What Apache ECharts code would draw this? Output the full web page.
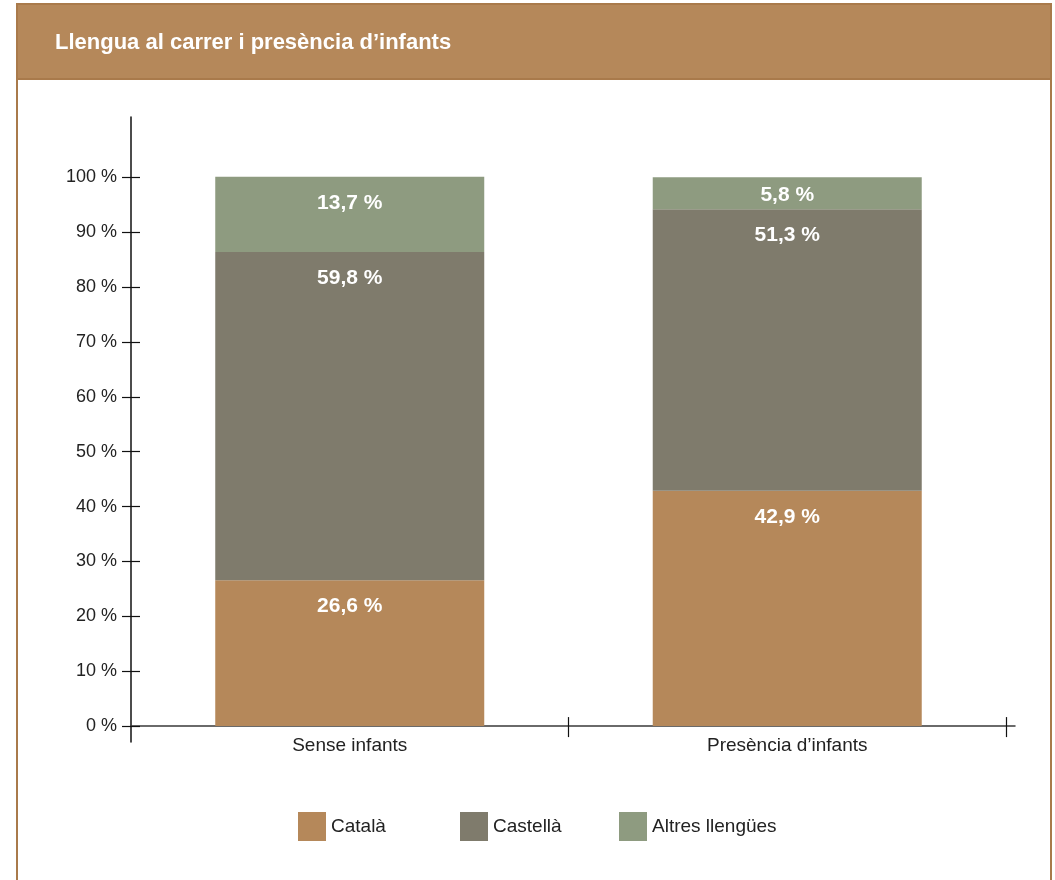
<!DOCTYPE html>
<html>
<head>
<meta charset="utf-8">
<script src="https://cdn.jsdelivr.net/npm/echarts@6/dist/echarts.min.js"></script>
<style>
  html, body { margin: 0; padding: 0; background: #ffffff; }
  #chart { width: 1055px; height: 880px; }
</style>
</head>
<body>
<div id="chart"></div>
<script>
// ---- data ----
const chartTitle = 'Llengua al carrer i presència d’infants';
const categories = ['Sense infants', 'Presència d’infants'];
const seriesNames = ['Català', 'Castellà', 'Altres llengües'];
const catala = [26.6, 42.9];
const castella = [59.8, 51.3];
const altres = [13.7, 5.8];
const yTickValues = [0, 10, 20, 30, 40, 50, 60, 70, 80, 90, 100];
const xBoundaryTicks = [1, 2];

// ---- styling ----
const FONT = '"Liberation Sans", Arial, Helvetica, sans-serif';
const COLORS = ['#B5885A', '#7F7B6C', '#8E9B80'];
const BRAND = '#B5885A';
const FRAME = '#A97A4B';
const LEGEND_LEFT = [298, 460, 619];

const fmtPct = v => v.toFixed(1).replace('.', ',') + ' %';

// Bars sit at the middle of each unit slot on the horizontal value axis;
// columns are [percentage, slot position] so the stack runs on the percentage.
function barSeries(name, values, color) {
  return {
    name: name,
    type: 'bar',
    stack: 'llengua',
    barWidth: 269,
    color: color,
    dimensions: ['pct', 'pos'],
    encode: { x: 1, y: 0 },
    data: values.map((v, i) => {
      const item = { value: [v, i + 0.5] };
      // thin segments keep their label closer to the top edge
      if (v < 8) item.label = { distance: 7 };
      return item;
    }),
    label: {
      show: true,
      position: 'insideTop',
      distance: 16,
      color: '#ffffff',
      fontFamily: FONT,
      fontWeight: 'bold',
      fontSize: 21,
      formatter: p => fmtPct(p.value[0])
    },
    emphasis: { disabled: true }
  };
}

const X_MAX = 2.0206;
const Y_MIN = -2.9;
const Y_MAX = 111;
const tickStyle = { color: '#111111', width: 1.2 };

// one legend block per series so the swatches sit on a regular spacing
const legends = seriesNames.map((name, i) => ({
  data: [name],
  left: LEGEND_LEFT[i],
  top: 812,
  padding: 0,
  itemWidth: 28,
  itemHeight: 29,
  icon: 'rect',
  selectedMode: false,
  textStyle: { color: '#222222', fontFamily: FONT, fontSize: 19 }
}));

const chart = echarts.init(document.getElementById('chart'), null, { renderer: 'canvas' });
chart.setOption({
  animation: false,
  backgroundColor: '#ffffff',
  title: {
    text: chartTitle,
    left: 55,
    top: 32,
    padding: 0,
    textStyle: { color: '#ffffff', fontFamily: FONT, fontWeight: 'bold', fontSize: 22 }
  },
  graphic: [
    { type: 'rect', z: -10, silent: true,
      shape: { x: 17, y: 4, width: 1034, height: 75 },
      style: { fill: BRAND, stroke: FRAME, lineWidth: 2 } },
    { type: 'line', z: -10, silent: true,
      shape: { x1: 17, y1: 79, x2: 17, y2: 880 },
      style: { stroke: FRAME, lineWidth: 2 } },
    { type: 'line', z: -10, silent: true,
      shape: { x1: 1051, y1: 79, x2: 1051, y2: 880 },
      style: { stroke: FRAME, lineWidth: 2 } }
  ],
  legend: legends,
  grid: { left: 131, right: 40, top: 117, bottom: 138, containLabel: false },
  xAxis: [
    {
      type: 'value', min: 0, max: X_MAX, position: 'bottom',
      splitLine: { show: false },
      axisLine: { show: true, onZero: true, lineStyle: { color: '#3a3a3a', width: 1.5 } },
      axisTick: { show: true, length: 11, customValues: xBoundaryTicks, lineStyle: tickStyle },
      axisLabel: {
        customValues: [0.5, 1.5],
        formatter: v => categories[Math.floor(v)],
        margin: -6, color: '#222222', fontFamily: FONT, fontSize: 19
      }
    },
    {
      type: 'value', min: 0, max: X_MAX, position: 'top',
      splitLine: { show: false },
      axisLine: { show: false, onZero: true },
      axisTick: { show: true, length: 9, customValues: xBoundaryTicks, lineStyle: tickStyle },
      axisLabel: { show: false }
    }
  ],
  yAxis: [
    {
      type: 'value', min: Y_MIN, max: Y_MAX, position: 'left',
      splitLine: { show: false },
      axisLine: { show: true, onZero: true, lineStyle: { color: '#111111', width: 1.5 } },
      axisTick: { show: true, length: 9, customValues: yTickValues, lineStyle: tickStyle },
      axisLabel: {
        customValues: yTickValues,
        formatter: v => v + ' %',
        margin: 14, color: '#222222', fontFamily: FONT, fontSize: 18
      }
    },
    {
      type: 'value', min: Y_MIN, max: Y_MAX, position: 'right',
      splitLine: { show: false },
      axisLine: { show: false, onZero: true },
      axisTick: { show: true, length: 9, customValues: yTickValues, lineStyle: tickStyle },
      axisLabel: { show: false }
    }
  ],
  series: [
    barSeries(seriesNames[0], catala, COLORS[0]),
    barSeries(seriesNames[1], castella, COLORS[1]),
    barSeries(seriesNames[2], altres, COLORS[2])
  ]
});
</script>
</body>
</html>
